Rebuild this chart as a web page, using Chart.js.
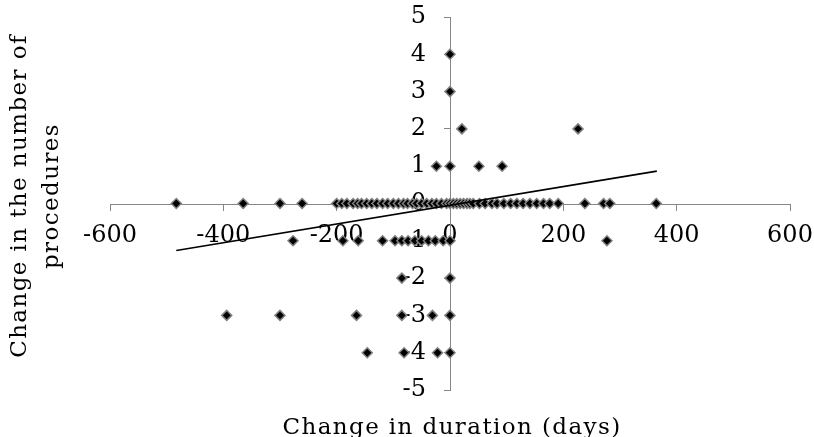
<!DOCTYPE html>
<html>
<head>
<meta charset="utf-8">
<script src="https://cdn.jsdelivr.net/npm/chart.js@4"></script>
<style>
  html, body { margin: 0; padding: 0; background: #fff; }
</style>
</head>
<body>
<canvas id="scatter" width="814" height="437"></canvas>
<script>
// change in duration (days) vs change in number of procedures, one entry per point
const durationChange = [
  -483, -365, -300, -261, -200, -191, -182, -171, -163, -156, -147, -138, -129, -119, -110,
  -100, -91, -82, -75, -66, -59, -50, -41, -32, -24, -15, -6, 0, 6, 12, 18, 24, 30, 35,
  41, 52, 62, 74, 83, 95, 107, 118, 129, 141, 153, 165, 176, 191, 238, 271, 282, 364,
  -24, 0, 51, 92,
  21, 226,
  0,
  0,
  -277, -189, -162, -119, -97, -85, -74, -62, -50, -38, -26, -12, 0, 277,
  -85, 0,
  -394, -300, -165, -85, -31, 0,
  -146, -81, -22, 0
];
const procedureChange = [
  0, 0, 0, 0, 0, 0, 0, 0, 0, 0, 0, 0, 0, 0, 0,
  0, 0, 0, 0, 0, 0, 0, 0, 0, 0, 0, 0, 0, 0, 0, 0, 0, 0, 0,
  0, 0, 0, 0, 0, 0, 0, 0, 0, 0, 0, 0, 0, 0, 0, 0, 0, 0,
  1, 1, 1, 1,
  2, 2,
  3,
  4,
  -1, -1, -1, -1, -1, -1, -1, -1, -1, -1, -1, -1, -1, -1,
  -2, -2,
  -3, -3, -3, -3, -3, -3,
  -4, -4, -4, -4
];

// linear trend line end points
const trendX = [-483, 365];
const trendY = [-1.26, 0.87];

const xTicks = [-600, -400, -200, 0, 200, 400, 600];
const yTicks = [-5, -4, -3, -2, -1, 0, 1, 2, 3, 4, 5];

const xTitle = 'Change in duration (days)';
const yTitle = ['Change in the number of', 'procedures'];

const FONT = "'DejaVu Serif', serif";
const AXIS_GREY = '#868686';

const points = durationChange.map((x, i) => ({ x: x, y: procedureChange[i] }));
const trend = trendX.map((x, i) => ({ x: x, y: trendY[i] }));

// axes sit in the middle, so they should take no room in the layout
function noRoom(s) {
  if (s.isHorizontal()) s.height = 0; else s.width = 0;
  s.paddingLeft = s.paddingRight = s.paddingTop = s.paddingBottom = 0;
}

const axisTitles = {
  id: 'axisTitles',
  afterDraw(chart) {
    const ctx = chart.ctx;
    ctx.save();
    ctx.fillStyle = '#000';
    ctx.font = '23px ' + FONT;
    ctx.letterSpacing = '1.4px';
    ctx.textAlign = 'center';
    ctx.textBaseline = 'alphabetic';
    ctx.fillText(xTitle, 452, 434);

    ctx.translate(0, 196);
    ctx.rotate(-Math.PI / 2);
    ctx.textBaseline = 'middle';
    ctx.fillText(yTitle[0], 0, 20);
    ctx.fillText(yTitle[1], 0, 52);
    ctx.restore();
  }
};

const ctx = document.getElementById('scatter').getContext('2d');
new Chart(ctx, {
  type: 'scatter',
  data: {
    datasets: [
      {
        type: 'line',
        label: 'Trend',
        data: trend,
        borderColor: '#000',
        borderWidth: 1.75,
        pointRadius: 0,
        fill: false
      },
      {
        label: 'Change',
        data: points,
        pointStyle: 'rectRot',
        pointRadius: 5,
        pointHoverRadius: 5,
        backgroundColor: '#000',
        borderColor: '#808080',
        borderWidth: 1.5
      }
    ]
  },
  options: {
    responsive: false,
    animation: false,
    layout: { padding: { left: 110, right: 24, top: 17, bottom: 47 } },
    plugins: {
      legend: { display: false },
      tooltip: { enabled: false }
    },
    scales: {
      x: {
        type: 'linear',
        position: 'center',
        min: -600,
        max: 600,
        afterBuildTicks: s => { s.ticks = xTicks.map(v => ({ value: v })); },
        afterFit: noRoom,
        grid: { drawOnChartArea: false, drawTicks: true, tickLength: 6, color: AXIS_GREY },
        border: { color: AXIS_GREY, width: 1 },
        ticks: { color: '#000', font: { family: FONT, size: 24 }, padding: 12, maxRotation: 0 }
      },
      y: {
        type: 'linear',
        position: 'center',
        min: -5,
        max: 5,
        afterBuildTicks: s => { s.ticks = yTicks.map(v => ({ value: v })); },
        afterFit: noRoom,
        grid: { drawOnChartArea: false, drawTicks: true, tickLength: 6, color: AXIS_GREY },
        border: { color: AXIS_GREY, width: 1 },
        ticks: { color: '#000', font: { family: FONT, size: 24 }, padding: 18 }
      }
    }
  },
  plugins: [axisTitles]
});
</script>
</body>
</html>
